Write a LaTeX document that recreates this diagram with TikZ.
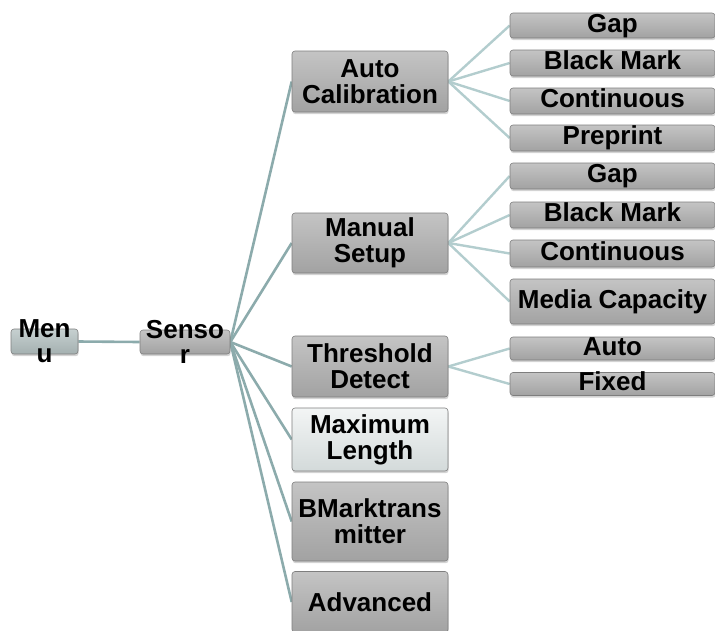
\documentclass[tikz,border=0pt]{standalone}
\usepackage{fontspec}
\setmainfont{Liberation Sans}
\usepackage{tikz}
\usetikzlibrary{shadows, backgrounds}

\definecolor{lnkcol}{HTML}{8CABAC}
\definecolor{sublnkcol}{HTML}{B3CDCE}
\definecolor{boxtop}{HTML}{C4C4C4}
\definecolor{boxbot}{HTML}{A2A2A2}
\definecolor{boxline}{HTML}{7E7E7E}
\definecolor{roottop}{HTML}{C6D0D0}
\definecolor{rootbot}{HTML}{A4B0B0}
\definecolor{paletop}{HTML}{F3F5F5}
\definecolor{palebot}{HTML}{D3DADA}

\tikzset{
  nodebox/.style={rectangle, rounded corners=3pt, draw=boxline, line width=0.6pt,
                  top color=boxtop, bottom color=boxbot, inner sep=0pt,
                  drop shadow={shadow xshift=0.6pt, shadow yshift=-2.2pt, opacity=.35},
                  font=\fontsize{26}{26}\selectfont\bfseries, align=center},
  rootbox/.style={nodebox, top color=roottop, bottom color=rootbot},
  rootlbl/.style={inner sep=0pt, align=center, font=\fontsize{26}{25}\selectfont\bfseries},
  branch/.style={nodebox, minimum width=156pt, minimum height=61pt},
  leaf/.style={nodebox, minimum width=205pt, minimum height=26pt,
               text height=18pt, text depth=5pt},
  lnk/.style={line width=2.6pt, draw=lnkcol},
  sublnk/.style={line width=2.4pt, draw=sublnkcol}
}

\begin{document}
\begin{tikzpicture}[x=1pt, y=-1pt]
  \useasboundingbox (0,0) rectangle (715,630);

  % root and sensor
  \node[rootbox, minimum width=67pt, minimum height=25pt] (menu) at (44.5,341.5) {};
  \node[rootlbl] (menu-t) at (menu.center) {Men\\u};
  \node[nodebox, minimum width=90pt, minimum height=24pt] (sensor) at (185,342) {};
  \node[rootlbl] (sensor-t) at (sensor.center) {Senso\\r};

  % second level
  \node[branch] (cal) at (370,81.5) {Auto\\Calibration};
  \node[branch, minimum height=60pt] (man) at (370,243) {Manual\\Setup};
  \node[branch] (thr) at (370,366.5) {Threshold\\Detect};
  \node[branch, minimum height=63pt, top color=paletop, bottom color=palebot]
       (maxl) at (370,439.5) {Maximum\\Length};
  \node[branch, minimum height=79pt] (bmk) at (370,521.5) {BMarktrans\\mitter};
  \node[branch] (adv) at (370,602) {Advanced};

  % third level
  \foreach \n/\y/\h/\t in {g1/25.5/25/Gap, b1/63/26/Black Mark, c1/101/26/Continuous,
      p1/138/26/Preprint, g2/176/26/Gap, b2/215/26/Black Mark, c2/253.5/27/Continuous,
      mc/301.5/45/Media Capacity, au/348.5/23/Auto, fx/384/22/Fixed}
    \node[leaf, minimum height=\h pt] (\n) at (612.5,\y) {\t};

  \begin{scope}[on background layer]
    \draw[lnk] (menu.east) -- (sensor.west);
    \foreach \b in {cal, man, thr, maxl, bmk, adv}
      \draw[lnk] (sensor.east) -- (\b.west);
    \foreach \a/\b in {cal/g1, cal/b1, cal/c1, cal/p1, man/g2, man/b2, man/c2, man/mc,
        thr/au, thr/fx}
      \draw[sublnk] (\a.east) -- (\b.west);
  \end{scope}
\end{tikzpicture}
\end{document}
